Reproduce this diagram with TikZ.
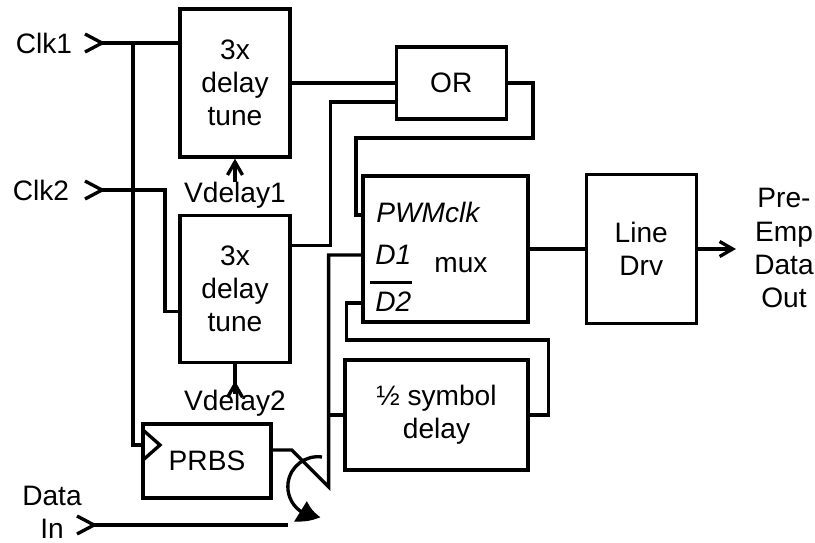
\documentclass[tikz,border=0pt]{standalone}
\usepackage{fontspec}
\setmainfont{Liberation Sans}
\usetikzlibrary{arrows.meta, positioning, bending}

\begin{document}
\begin{tikzpicture}[
    x=0.02cm, y=-0.02cm,
    font=\fontsize{16pt}{18.8pt}\selectfont,
    block/.style={
        rectangle,
        draw,
        line width=1.9pt,
        align=center,
        inner sep=0pt,
        minimum width=2.2cm
    },
    lbl/.style={inner sep=0pt, align=center},
    wire/.style={line width=1.9pt},
    tip/.style={-{Straight Barb[length=0.26cm, width=0.3cm]}}
]
\useasboundingbox (0,0) rectangle (815,542);

% blocks
\node[block, minimum height=2.96cm] (dt1) at (235,83) {3x\\delay\\tune};
\node[block, minimum height=2.94cm, below=1.1cm of dt1] (dt2) {3x\\delay\\tune};
\node[block, minimum height=1.44cm, right=2.06cm of dt1] (or) {OR};
\node[block, minimum width=3.3cm, minimum height=2.92cm] (mux) at (445.5,249) {};
\node[block, minimum width=3.66cm, minimum height=2.2cm] (hsd) at (436.5,415) {½ symbol\\delay};
\node[block, minimum height=2.98cm, right=1.1cm of mux] (drv) {Line\\Drv};
\node[block, minimum width=2.56cm, minimum height=1.48cm] (prbs) at (207,461) {PRBS};

% mux inputs
\node[lbl, anchor=west] (pwm) at (376,212) {\itshape PWMclk};
\node[lbl, anchor=west] (d1) at (375,255) {\itshape D1};
\node[lbl, anchor=west] (d2) at (375,302) {\itshape D2};
\node[lbl] (muxl) at (461,265) {mux};
\draw[line width=1.6pt] ([xshift=-0.1cm, yshift=0.18cm]d2.north west) -- ([yshift=0.18cm]d2.north east);

% labels
\node[lbl] (clk1) at (44,43) {Clk1};
\node[lbl] (clk2) at (41,190) {Clk2};
\node[lbl] (din) at (52,512) {Data\\In};
\node[lbl] (vd1) at (235,195) {Vdelay1};
\node[lbl] (vd2) at (235,403) {Vdelay2};
\node[lbl] (out) at (784,248) {Pre-\\Emp\\Data\\Out};

\coordinate (ck1tip) at (102,43);
\coordinate (ck2tip) at (102,190);
\coordinate (dintip) at (94,525);
\coordinate (dinend) at (288,525);
\coordinate (jn1) at (133,43);
\coordinate (ckin) at (143,445);
\coordinate (swtop) at (322,457);

% input marks
\draw[wire] (ck1tip) ++(-17,-9) -- (ck1tip) -- ++(-17,9);
\draw[wire] (ck2tip) ++(-17,-9) -- (ck2tip) -- ++(-17,9);
\draw[wire] (dintip) ++(-17,-9) -- (dintip) -- ++(-17,9);

% clocks
\draw[wire] (ck1tip) -- (dt1.west |- ck1tip);
\draw[wire] (jn1) |- (ckin);
\draw[wire] (143,430) -- (160,445) -- (143,460);
\draw[wire] (ck2tip) -- ++(63,0) |- ([yshift=-0.45cm]dt2.west);

% delay control
\draw[wire, tip] (vd1.north) -- (dt1.south);
\draw[wire] (dt2.south) -- ++(0,30) coordinate (vd2stem);
\draw[wire, tip] (vd2stem) -- ++(0,-13);

% OR and mux
\draw[wire] (dt1.east) -- (or.west);
\draw[wire] ([yshift=0.87cm]dt2.east) -- ++(39,0) |- ([yshift=-0.38cm]or.west);
\draw[wire] (or.east) -- ++(25,0) -- ++(0,55) -- ++(-177,0) |- ([yshift=0.68cm]mux.west);
\draw[wire] ([yshift=0.22cm]prbs.east) -- ++(19,0) -- ++(37,37) coordinate (swv) |- ([yshift=-0.12cm]mux.west);
\draw[wire] (swv |- hsd.west) -- (hsd.west);
\draw[wire] (hsd.east) -- ++(19,0) |- ++(-202,-75) |- ([yshift=-1.08cm]mux.west);
\draw[wire] (mux.east) -- (drv.west);
\draw[wire, tip] (drv.east) -- ++(38,0) coordinate (outtip);

% data in and switch
\draw[wire] (dintip) -- (dinend);
\draw[wire, -{Triangle[bend, length=0.42cm, width=0.46cm]}] (swtop) arc[start angle=82, end angle=275, radius=0.6cm];
\end{tikzpicture}
\end{document}
